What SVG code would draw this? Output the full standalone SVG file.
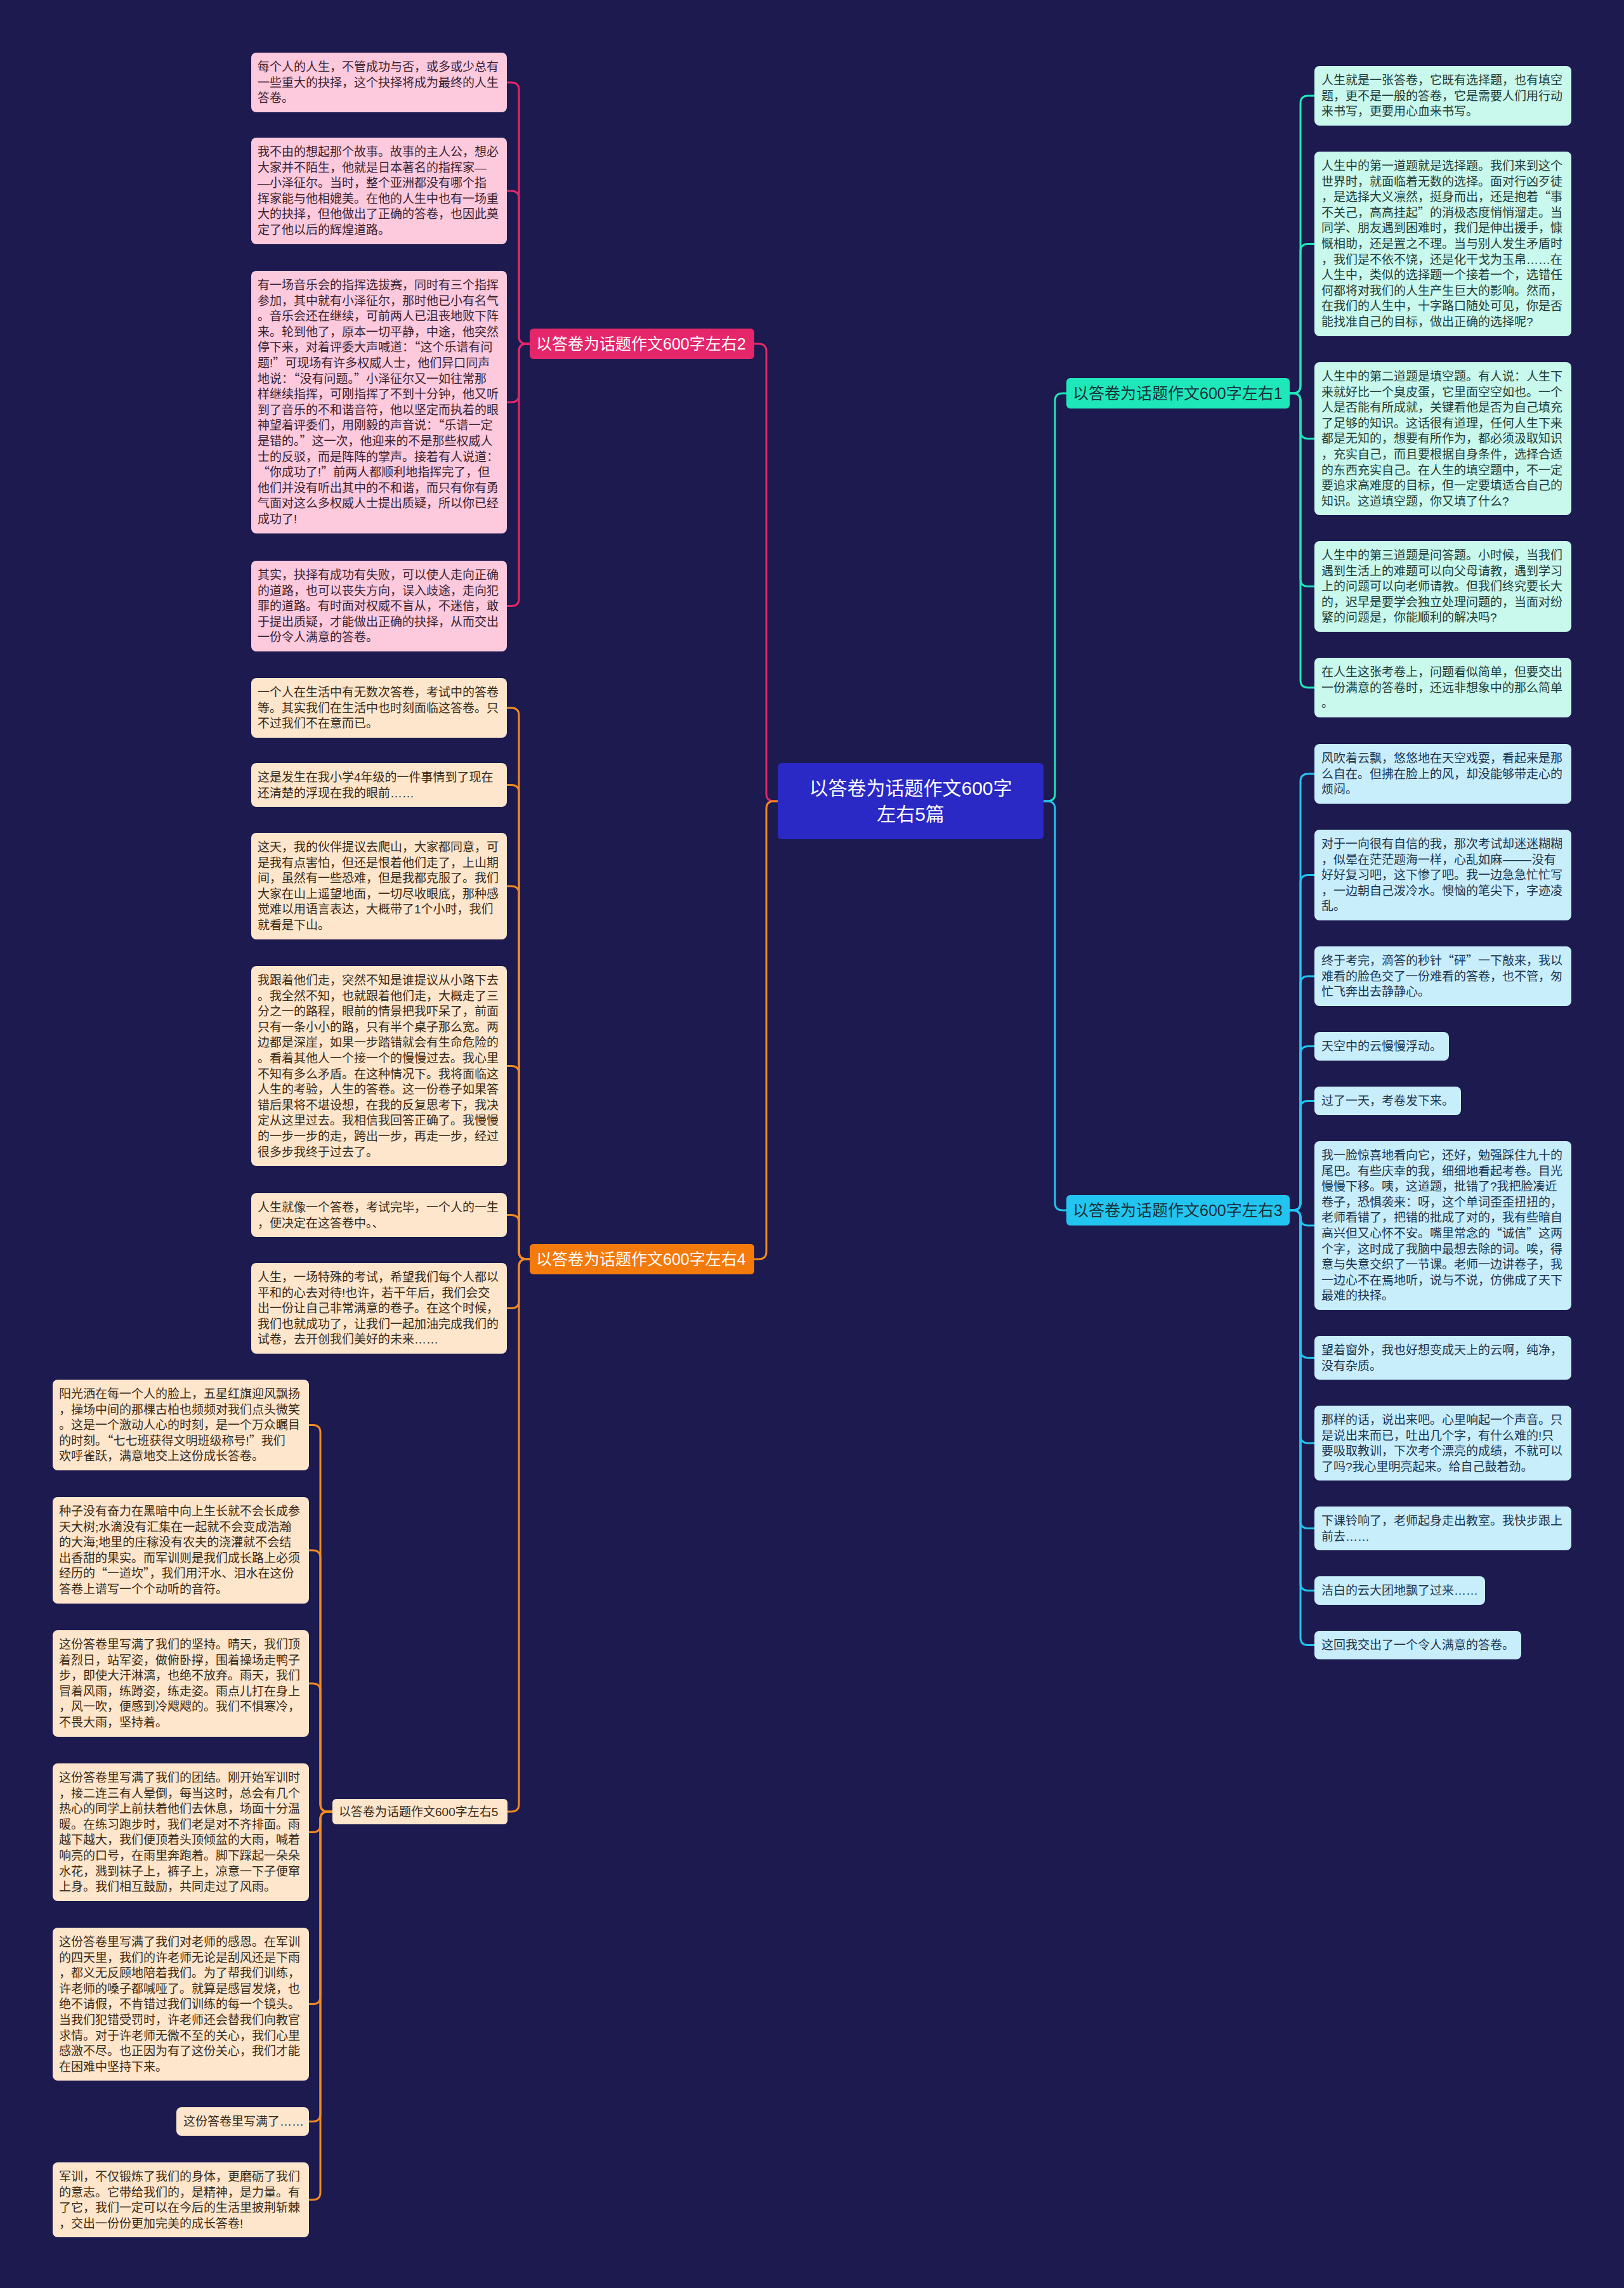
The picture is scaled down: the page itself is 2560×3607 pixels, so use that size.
<svg xmlns="http://www.w3.org/2000/svg" width="2560" height="3607" viewBox="0 0 2560 3607">
<style>
text{font-family:"Liberation Sans","Noto Sans CJK SC",sans-serif}
.q{font-family:"Noto Sans CJK SC",sans-serif}
.t{font-size:19px}
.pk rect{fill:#fcc9dd}
.pk text{fill:#3b2330}
.or rect{fill:#fde6cc}
.or text{fill:#3a2a18}
.tl rect{fill:#c9f8ec}
.tl text{fill:#1f3d3a}
.cy rect{fill:#c9eefb}
.cy text{fill:#1c3550}
.br text{font-size:25px}
.c path{fill:none;stroke-width:3;stroke-linecap:round}
.cp{stroke:#e5266b}
.co{stroke:#f28a21}
.ct{stroke:#1ee8b9}
.cc{stroke:#22c5ef}
</style>
<rect width="2560" height="3607" fill="#1c1a4f"/>
<g id="connectors" class="c">
<path class="ct" d="M1645 1263 H1651 Q1663 1263 1663 1251 V632 Q1663 620 1675 620 H1681"/>
<path class="cc" d="M1645 1263 H1651 Q1663 1263 1663 1275 V1896 Q1663 1908 1675 1908 H1681"/>
<path class="cp" d="M1226 1263 H1220 Q1208 1263 1208 1251 V554 Q1208 542 1196 542 H1189"/>
<path class="co" d="M1226 1263 H1220 Q1208 1263 1208 1275 V1973 Q1208 1985 1196 1985 H1189"/>
<path class="ct" d="M2033 620 H2038 Q2050 620 2050 608 V163 Q2050 151 2062 151 H2072"/>
<path class="ct" d="M2033 620 H2038 Q2050 620 2050 608 V396.5 Q2050 384.5 2062 384.5 H2072"/>
<path class="ct" d="M2033 620 H2038 Q2050 620 2050 632 V679.5 Q2050 691.5 2062 691.5 H2072"/>
<path class="ct" d="M2033 620 H2038 Q2050 620 2050 632 V912.5 Q2050 924.5 2062 924.5 H2072"/>
<path class="ct" d="M2033 620 H2038 Q2050 620 2050 632 V1072 Q2050 1084 2062 1084 H2072"/>
<path class="cc" d="M2033 1908 H2038 Q2050 1908 2050 1896 V1232 Q2050 1220 2062 1220 H2072"/>
<path class="cc" d="M2033 1908 H2038 Q2050 1908 2050 1896 V1391.5 Q2050 1379.5 2062 1379.5 H2072"/>
<path class="cc" d="M2033 1908 H2038 Q2050 1908 2050 1896 V1551 Q2050 1539 2062 1539 H2072"/>
<path class="cc" d="M2033 1908 H2038 Q2050 1908 2050 1896 V1661.5 Q2050 1649.5 2062 1649.5 H2072"/>
<path class="cc" d="M2033 1908 H2038 Q2050 1908 2050 1896 V1747.5 Q2050 1735.5 2062 1735.5 H2072"/>
<path class="cc" d="M2033 1908 H2038 Q2050 1908 2050 1920 V1920 Q2050 1932 2062 1932 H2072"/>
<path class="cc" d="M2033 1908 H2038 Q2050 1908 2050 1920 V2128.5 Q2050 2140.5 2062 2140.5 H2072"/>
<path class="cc" d="M2033 1908 H2038 Q2050 1908 2050 1920 V2263 Q2050 2275 2062 2275 H2072"/>
<path class="cc" d="M2033 1908 H2038 Q2050 1908 2050 1920 V2397.5 Q2050 2409.5 2062 2409.5 H2072"/>
<path class="cc" d="M2033 1908 H2038 Q2050 1908 2050 1920 V2495.5 Q2050 2507.5 2062 2507.5 H2072"/>
<path class="cc" d="M2033 1908 H2038 Q2050 1908 2050 1920 V2581.5 Q2050 2593.5 2062 2593.5 H2072"/>
<path class="cp" d="M835 542 H830 Q818 542 818 530 V142 Q818 130 806 130 H799"/>
<path class="cp" d="M835 542 H830 Q818 542 818 530 V313 Q818 301 806 301 H799"/>
<path class="cp" d="M835 542 H830 Q818 542 818 554 V622 Q818 634 806 634 H799"/>
<path class="cp" d="M835 542 H830 Q818 542 818 554 V943.5 Q818 955.5 806 955.5 H799"/>
<path class="co" d="M835 1985 H830 Q818 1985 818 1973 V1128 Q818 1116 806 1116 H799"/>
<path class="co" d="M835 1985 H830 Q818 1985 818 1973 V1249.5 Q818 1237.5 806 1237.5 H799"/>
<path class="co" d="M835 1985 H830 Q818 1985 818 1973 V1409 Q818 1397 806 1397 H799"/>
<path class="co" d="M835 1985 H830 Q818 1985 818 1973 V1692.5 Q818 1680.5 806 1680.5 H799"/>
<path class="co" d="M835 1985 H830 Q818 1985 818 1973 V1927.5 Q818 1915.5 806 1915.5 H799"/>
<path class="co" d="M835 1985 H830 Q818 1985 818 1997 V2050.5 Q818 2062.5 806 2062.5 H799"/>
<path class="co" d="M835 1985 H830 Q818 1985 818 1997 V2844 Q818 2856 806 2856 H800"/>
<path class="co" d="M524 2856 H517 Q505 2856 505 2844 V2258.5 Q505 2246.5 493 2246.5 H487"/>
<path class="co" d="M524 2856 H517 Q505 2856 505 2844 V2456 Q505 2444 493 2444 H487"/>
<path class="co" d="M524 2856 H517 Q505 2856 505 2844 V2666 Q505 2654 493 2654 H487"/>
<path class="co" d="M524 2856 H517 Q505 2856 505 2868 V2876.5 Q505 2888.5 493 2888.5 H487"/>
<path class="co" d="M524 2856 H517 Q505 2856 505 2868 V3147.5 Q505 3159.5 493 3159.5 H487"/>
<path class="co" d="M524 2856 H517 Q505 2856 505 2868 V3332.5 Q505 3344.5 493 3344.5 H487"/>
<path class="co" d="M524 2856 H517 Q505 2856 505 2868 V3456 Q505 3468 493 3468 H487"/>
</g>

<g id="center">
<rect x="1226" y="1203" width="419" height="120" rx="6" fill="#2a29c6"/>
<text x="1435.5" y="1253" font-size="30" fill="#ffffff" text-anchor="middle"><tspan x="1435.5">以答卷为话题作文600字</tspan><tspan x="1435.5" dy="41">左右5篇</tspan></text>
</g>

<g id="branch1" class="br">
<rect x="1681" y="596" width="352" height="48" rx="6" fill="#1ee8b9"/>
<text x="1691" y="629" fill="#1b2e3a">以答卷为话题作文600字左右1</text>
</g>
<g id="branch3" class="br">
<rect x="1681" y="1884" width="352" height="48" rx="6" fill="#22c5ef"/>
<text x="1691" y="1917" fill="#1b2e3a">以答卷为话题作文600字左右3</text>
</g>
<g id="branch2" class="br">
<rect x="835" y="518" width="354" height="48" rx="6" fill="#e5266b"/>
<text x="845" y="551" fill="#ffffff">以答卷为话题作文600字左右2</text>
</g>
<g id="branch4" class="br">
<rect x="835" y="1961" width="354" height="48" rx="6" fill="#f47a0c"/>
<text x="845" y="1994" fill="#ffffff">以答卷为话题作文600字左右4</text>
</g>
<g id="branch5" class="or">
<rect x="524" y="2836" width="276" height="40" rx="6"/>
<text class="t" x="534" y="2863">以答卷为话题作文600字左右5</text>
</g>

<g id="p1" class="pk"><rect x="396" y="83" width="403" height="94" rx="8"/><text class="t" y="112"><tspan x="406">每个人的人生，不管成功与否，或多或少总有</tspan><tspan x="406" dy="24.6">一些重大的抉择，这个抉择将成为最终的人生</tspan><tspan x="406" dy="24.6">答卷。</tspan></text></g>
<g id="p2" class="pk"><rect x="396" y="217" width="403" height="168" rx="8"/><text class="t" y="246"><tspan x="406">我不由的想起那个故事。故事的主人公，想必</tspan><tspan x="406" dy="24.6">大家并不陌生，他就是日本著名的指挥家—</tspan><tspan x="406" dy="24.6">—小泽征尔。当时，整个亚洲都没有哪个指</tspan><tspan x="406" dy="24.6">挥家能与他相媲美。在他的人生中也有一场重</tspan><tspan x="406" dy="24.6">大的抉择，但他做出了正确的答卷，也因此奠</tspan><tspan x="406" dy="24.6">定了他以后的辉煌道路。</tspan></text></g>
<g id="p3" class="pk"><rect x="396" y="427" width="403" height="414" rx="8"/><text class="t" y="456"><tspan x="406">有一场音乐会的指挥选拔赛，同时有三个指挥</tspan><tspan x="406" dy="24.6">参加，其中就有小泽征尔，那时他已小有名气</tspan><tspan x="406" dy="24.6">。音乐会还在继续，可前两人已沮丧地败下阵</tspan><tspan x="406" dy="24.6">来。轮到他了，原本一切平静，中途，他突然</tspan><tspan x="406" dy="24.6">停下来，对着评委大声喊道：<tspan class="q">“</tspan>这个乐谱有问</tspan><tspan x="406" dy="24.6">题!<tspan class="q">”</tspan>可现场有许多权威人士，他们异口同声</tspan><tspan x="406" dy="24.6">地说：<tspan class="q">“</tspan>没有问题。<tspan class="q">”</tspan>小泽征尔又一如往常那</tspan><tspan x="406" dy="24.6">样继续指挥，可刚指挥了不到十分钟，他又听</tspan><tspan x="406" dy="24.6">到了音乐的不和谐音符，他以坚定而执着的眼</tspan><tspan x="406" dy="24.6">神望着评委们，用刚毅的声音说：<tspan class="q">“</tspan>乐谱一定</tspan><tspan x="406" dy="24.6">是错的。<tspan class="q">”</tspan>这一次，他迎来的不是那些权威人</tspan><tspan x="406" dy="24.6">士的反驳，而是阵阵的掌声。接着有人说道：</tspan><tspan x="406" dy="24.6"><tspan class="q">“</tspan>你成功了!<tspan class="q">”</tspan>前两人都顺利地指挥完了，但</tspan><tspan x="406" dy="24.6">他们并没有听出其中的不和谐，而只有你有勇</tspan><tspan x="406" dy="24.6">气面对这么多权威人士提出质疑，所以你已经</tspan><tspan x="406" dy="24.6">成功了!</tspan></text></g>
<g id="p4" class="pk"><rect x="396" y="884" width="403" height="143" rx="8"/><text class="t" y="913"><tspan x="406">其实，抉择有成功有失败，可以使人走向正确</tspan><tspan x="406" dy="24.6">的道路，也可以丧失方向，误入歧途，走向犯</tspan><tspan x="406" dy="24.6">罪的道路。有时面对权威不盲从，不迷信，敢</tspan><tspan x="406" dy="24.6">于提出质疑，才能做出正确的抉择，从而交出</tspan><tspan x="406" dy="24.6">一份令人满意的答卷。</tspan></text></g>

<g id="o1" class="or"><rect x="396" y="1069" width="403" height="94" rx="8"/><text class="t" y="1098"><tspan x="406">一个人在生活中有无数次答卷，考试中的答卷</tspan><tspan x="406" dy="24.6">等。其实我们在生活中也时刻面临这答卷。只</tspan><tspan x="406" dy="24.6">不过我们不在意而已。</tspan></text></g>
<g id="o2" class="or"><rect x="396" y="1203" width="403" height="69" rx="8"/><text class="t" y="1232"><tspan x="406">这是发生在我小学4年级的一件事情到了现在</tspan><tspan x="406" dy="24.6">还清楚的浮现在我的眼前……</tspan></text></g>
<g id="o3" class="or"><rect x="396" y="1313" width="403" height="168" rx="8"/><text class="t" y="1342"><tspan x="406">这天，我的伙伴提议去爬山，大家都同意，可</tspan><tspan x="406" dy="24.6">是我有点害怕，但还是恨着他们走了，上山期</tspan><tspan x="406" dy="24.6">间，虽然有一些恐难，但是我都克服了。我们</tspan><tspan x="406" dy="24.6">大家在山上遥望地面，一切尽收眼底，那种感</tspan><tspan x="406" dy="24.6">觉难以用语言表达，大概带了1个小时，我们</tspan><tspan x="406" dy="24.6">就看是下山。</tspan></text></g>
<g id="o4" class="or"><rect x="396" y="1523" width="403" height="315" rx="8"/><text class="t" y="1552"><tspan x="406">我跟着他们走，突然不知是谁提议从小路下去</tspan><tspan x="406" dy="24.6">。我全然不知，也就跟着他们走，大概走了三</tspan><tspan x="406" dy="24.6">分之一的路程，眼前的情景把我吓呆了，前面</tspan><tspan x="406" dy="24.6">只有一条小小的路，只有半个桌子那么宽。两</tspan><tspan x="406" dy="24.6">边都是深崖，如果一步踏错就会有生命危险的</tspan><tspan x="406" dy="24.6">。看着其他人一个接一个的慢慢过去。我心里</tspan><tspan x="406" dy="24.6">不知有多么矛盾。在这种情况下。我将面临这</tspan><tspan x="406" dy="24.6">人生的考验，人生的答卷。这一份卷子如果答</tspan><tspan x="406" dy="24.6">错后果将不堪设想，在我的反复思考下，我决</tspan><tspan x="406" dy="24.6">定从这里过去。我相信我回答正确了。我慢慢</tspan><tspan x="406" dy="24.6">的一步一步的走，跨出一步，再走一步，经过</tspan><tspan x="406" dy="24.6">很多步我终于过去了。</tspan></text></g>
<g id="o5" class="or"><rect x="396" y="1881" width="403" height="69" rx="8"/><text class="t" y="1910"><tspan x="406">人生就像一个答卷，考试完毕，一个人的一生</tspan><tspan x="406" dy="24.6">，便决定在这答卷中。、</tspan></text></g>
<g id="o6" class="or"><rect x="396" y="1991" width="403" height="143" rx="8"/><text class="t" y="2020"><tspan x="406">人生，一场特殊的考试，希望我们每个人都以</tspan><tspan x="406" dy="24.6">平和的心去对待!也许，若干年后，我们会交</tspan><tspan x="406" dy="24.6">出一份让自己非常满意的卷子。在这个时候，</tspan><tspan x="406" dy="24.6">我们也就成功了，让我们一起加油完成我们的</tspan><tspan x="406" dy="24.6">试卷，去开创我们美好的未来……</tspan></text></g>

<g id="bl1" class="or"><rect x="83" y="2175" width="404" height="143" rx="8"/><text class="t" y="2204"><tspan x="93">阳光洒在每一个人的脸上，五星红旗迎风飘扬</tspan><tspan x="93" dy="24.6">，操场中间的那棵古柏也频频对我们点头微笑</tspan><tspan x="93" dy="24.6">。这是一个激动人心的时刻，是一个万众瞩目</tspan><tspan x="93" dy="24.6">的时刻。<tspan class="q">“</tspan>七七班获得文明班级称号!<tspan class="q">”</tspan>我们</tspan><tspan x="93" dy="24.6">欢呼雀跃，满意地交上这份成长答卷。</tspan></text></g>
<g id="bl2" class="or"><rect x="83" y="2360" width="404" height="168" rx="8"/><text class="t" y="2389"><tspan x="93">种子没有奋力在黑暗中向上生长就不会长成参</tspan><tspan x="93" dy="24.6">天大树;水滴没有汇集在一起就不会变成浩瀚</tspan><tspan x="93" dy="24.6">的大海;地里的庄稼没有农夫的浇灌就不会结</tspan><tspan x="93" dy="24.6">出香甜的果实。而军训则是我们成长路上必须</tspan><tspan x="93" dy="24.6">经历的<tspan class="q">“</tspan>一道坎<tspan class="q">”</tspan>，我们用汗水、泪水在这份</tspan><tspan x="93" dy="24.6">答卷上谱写一个个动听的音符。</tspan></text></g>
<g id="bl3" class="or"><rect x="83" y="2570" width="404" height="168" rx="8"/><text class="t" y="2599"><tspan x="93">这份答卷里写满了我们的坚持。晴天，我们顶</tspan><tspan x="93" dy="24.6">着烈日，站军姿，做俯卧撑，围着操场走鸭子</tspan><tspan x="93" dy="24.6">步，即使大汗淋漓，也绝不放弃。雨天，我们</tspan><tspan x="93" dy="24.6">冒着风雨，练蹲姿，练走姿。雨点儿打在身上</tspan><tspan x="93" dy="24.6">，风一吹，便感到冷飕飕的。我们不惧寒冷，</tspan><tspan x="93" dy="24.6">不畏大雨，坚持着。</tspan></text></g>
<g id="bl4" class="or"><rect x="83" y="2780" width="404" height="217" rx="8"/><text class="t" y="2809"><tspan x="93">这份答卷里写满了我们的团结。刚开始军训时</tspan><tspan x="93" dy="24.6">，接二连三有人晕倒，每当这时，总会有几个</tspan><tspan x="93" dy="24.6">热心的同学上前扶着他们去休息，场面十分温</tspan><tspan x="93" dy="24.6">暖。在练习跑步时，我们老是对不齐排面。雨</tspan><tspan x="93" dy="24.6">越下越大，我们便顶着头顶倾盆的大雨，喊着</tspan><tspan x="93" dy="24.6">响亮的口号，在雨里奔跑着。脚下踩起一朵朵</tspan><tspan x="93" dy="24.6">水花，溅到袜子上，裤子上，凉意一下子便窜</tspan><tspan x="93" dy="24.6">上身。我们相互鼓励，共同走过了风雨。</tspan></text></g>
<g id="bl5" class="or"><rect x="83" y="3039" width="404" height="241" rx="8"/><text class="t" y="3068"><tspan x="93">这份答卷里写满了我们对老师的感恩。在军训</tspan><tspan x="93" dy="24.6">的四天里，我们的许老师无论是刮风还是下雨</tspan><tspan x="93" dy="24.6">，都义无反顾地陪着我们。为了帮我们训练，</tspan><tspan x="93" dy="24.6">许老师的嗓子都喊哑了。就算是感冒发烧，也</tspan><tspan x="93" dy="24.6">绝不请假，不肯错过我们训练的每一个镜头。</tspan><tspan x="93" dy="24.6">当我们犯错受罚时，许老师还会替我们向教官</tspan><tspan x="93" dy="24.6">求情。对于许老师无微不至的关心，我们心里</tspan><tspan x="93" dy="24.6">感激不尽。也正因为有了这份关心，我们才能</tspan><tspan x="93" dy="24.6">在困难中坚持下来。</tspan></text></g>
<g id="bl6" class="or"><rect x="278" y="3322" width="209" height="45" rx="8"/><text class="t" x="289" y="3351">这份答卷里写满了……</text></g>
<g id="bl7" class="or"><rect x="83" y="3409" width="404" height="118" rx="8"/><text class="t" y="3438"><tspan x="93">军训，不仅锻炼了我们的身体，更磨砺了我们</tspan><tspan x="93" dy="24.6">的意志。它带给我们的，是精神，是力量。有</tspan><tspan x="93" dy="24.6">了它，我们一定可以在今后的生活里披荆斩棘</tspan><tspan x="93" dy="24.6">，交出一份份更加完美的成长答卷!</tspan></text></g>

<g id="r1" class="tl"><rect x="2072" y="104" width="405" height="94" rx="8"/><text class="t" y="133"><tspan x="2083">人生就是一张答卷，它既有选择题，也有填空</tspan><tspan x="2083" dy="24.6">题，更不是一般的答卷，它是需要人们用行动</tspan><tspan x="2083" dy="24.6">来书写，更要用心血来书写。</tspan></text></g>
<g id="r2" class="tl"><rect x="2072" y="239" width="405" height="291" rx="8"/><text class="t" y="268"><tspan x="2083">人生中的第一道题就是选择题。我们来到这个</tspan><tspan x="2083" dy="24.6">世界时，就面临着无数的选择。面对行凶歹徒</tspan><tspan x="2083" dy="24.6">，是选择大义凛然，挺身而出，还是抱着<tspan class="q">“</tspan>事</tspan><tspan x="2083" dy="24.6">不关己，高高挂起<tspan class="q">”</tspan>的消极态度悄悄溜走。当</tspan><tspan x="2083" dy="24.6">同学、朋友遇到困难时，我们是伸出援手，慷</tspan><tspan x="2083" dy="24.6">慨相助，还是置之不理。当与别人发生矛盾时</tspan><tspan x="2083" dy="24.6">，我们是不依不饶，还是化干戈为玉帛……在</tspan><tspan x="2083" dy="24.6">人生中，类似的选择题一个接着一个，选错任</tspan><tspan x="2083" dy="24.6">何都将对我们的人生产生巨大的影响。然而，</tspan><tspan x="2083" dy="24.6">在我们的人生中，十字路口随处可见，你是否</tspan><tspan x="2083" dy="24.6">能找准自己的目标，做出正确的选择呢?</tspan></text></g>
<g id="r3" class="tl"><rect x="2072" y="571" width="405" height="241" rx="8"/><text class="t" y="600"><tspan x="2083">人生中的第二道题是填空题。有人说：人生下</tspan><tspan x="2083" dy="24.6">来就好比一个臭皮蛋，它里面空空如也。一个</tspan><tspan x="2083" dy="24.6">人是否能有所成就，关键看他是否为自己填充</tspan><tspan x="2083" dy="24.6">了足够的知识。这话很有道理，任何人生下来</tspan><tspan x="2083" dy="24.6">都是无知的，想要有所作为，都必须汲取知识</tspan><tspan x="2083" dy="24.6">，充实自己，而且要根据自身条件，选择合适</tspan><tspan x="2083" dy="24.6">的东西充实自己。在人生的填空题中，不一定</tspan><tspan x="2083" dy="24.6">要追求高难度的目标，但一定要填适合自己的</tspan><tspan x="2083" dy="24.6">知识。这道填空题，你又填了什么?</tspan></text></g>
<g id="r4" class="tl"><rect x="2072" y="853" width="405" height="143" rx="8"/><text class="t" y="882"><tspan x="2083">人生中的第三道题是问答题。小时候，当我们</tspan><tspan x="2083" dy="24.6">遇到生活上的难题可以向父母请教，遇到学习</tspan><tspan x="2083" dy="24.6">上的问题可以向老师请教。但我们终究要长大</tspan><tspan x="2083" dy="24.6">的，迟早是要学会独立处理问题的，当面对纷</tspan><tspan x="2083" dy="24.6">繁的问题是，你能顺利的解决吗?</tspan></text></g>
<g id="r5" class="tl"><rect x="2072" y="1037" width="405" height="94" rx="8"/><text class="t" y="1066"><tspan x="2083">在人生这张考卷上，问题看似简单，但要交出</tspan><tspan x="2083" dy="24.6">一份满意的答卷时，还远非想象中的那么简单</tspan><tspan x="2083" dy="24.6">。</tspan></text></g>

<g id="r6" class="cy"><rect x="2072" y="1173" width="405" height="94" rx="8"/><text class="t" y="1202"><tspan x="2083">风吹着云飘，悠悠地在天空戏耍，看起来是那</tspan><tspan x="2083" dy="24.6">么自在。但拂在脸上的风，却没能够带走心的</tspan><tspan x="2083" dy="24.6">烦闷。</tspan></text></g>
<g id="r7" class="cy"><rect x="2072" y="1308" width="405" height="143" rx="8"/><text class="t" y="1337"><tspan x="2083">对于一向很有自信的我，那次考试却迷迷糊糊</tspan><tspan x="2083" dy="24.6">，似晕在茫茫题海一样，心乱如麻<tspan class="q">———</tspan>没有</tspan><tspan x="2083" dy="24.6">好好复习吧，这下惨了吧。我一边急急忙忙写</tspan><tspan x="2083" dy="24.6">，一边朝自己泼冷水。懊恼的笔尖下，字迹凌</tspan><tspan x="2083" dy="24.6">乱。</tspan></text></g>
<g id="r8" class="cy"><rect x="2072" y="1492" width="405" height="94" rx="8"/><text class="t" y="1521"><tspan x="2083">终于考完，滴答的秒针<tspan class="q">“</tspan>砰<tspan class="q">”</tspan>一下敲来，我以</tspan><tspan x="2083" dy="24.6">难看的脸色交了一份难看的答卷，也不管，匆</tspan><tspan x="2083" dy="24.6">忙飞奔出去静静心。</tspan></text></g>
<g id="r9" class="cy"><rect x="2072" y="1627" width="212" height="45" rx="8"/><text class="t" x="2083" y="1656">天空中的云慢慢浮动。</text></g>
<g id="r10" class="cy"><rect x="2072" y="1713" width="231" height="45" rx="8"/><text class="t" x="2083" y="1742">过了一天，考卷发下来。</text></g>
<g id="r11" class="cy"><rect x="2072" y="1799" width="405" height="266" rx="8"/><text class="t" y="1828"><tspan x="2083">我一脸惊喜地看向它，还好，勉强踩住九十的</tspan><tspan x="2083" dy="24.6">尾巴。有些庆幸的我，细细地看起考卷。目光</tspan><tspan x="2083" dy="24.6">慢慢下移。咦，这道题，批错了?我把脸凑近</tspan><tspan x="2083" dy="24.6">卷子，恐惧袭来：呀，这个单词歪歪扭扭的，</tspan><tspan x="2083" dy="24.6">老师看错了，把错的批成了对的，我有些暗自</tspan><tspan x="2083" dy="24.6">高兴但又心怀不安。嘴里常念的<tspan class="q">“</tspan>诚信<tspan class="q">”</tspan>这两</tspan><tspan x="2083" dy="24.6">个字，这时成了我脑中最想去除的词。唉，得</tspan><tspan x="2083" dy="24.6">意与失意交织了一节课。老师一边讲卷子，我</tspan><tspan x="2083" dy="24.6">一边心不在焉地听，说与不说，仿佛成了天下</tspan><tspan x="2083" dy="24.6">最难的抉择。</tspan></text></g>
<g id="r12" class="cy"><rect x="2072" y="2106" width="405" height="69" rx="8"/><text class="t" y="2135"><tspan x="2083">望着窗外，我也好想变成天上的云啊，纯净，</tspan><tspan x="2083" dy="24.6">没有杂质。</tspan></text></g>
<g id="r13" class="cy"><rect x="2072" y="2216" width="405" height="118" rx="8"/><text class="t" y="2245"><tspan x="2083">那样的话，说出来吧。心里响起一个声音。只</tspan><tspan x="2083" dy="24.6">是说出来而已，吐出几个字，有什么难的!只</tspan><tspan x="2083" dy="24.6">要吸取教训，下次考个漂亮的成绩，不就可以</tspan><tspan x="2083" dy="24.6">了吗?我心里明亮起来。给自己鼓着劲。</tspan></text></g>
<g id="r14" class="cy"><rect x="2072" y="2375" width="405" height="69" rx="8"/><text class="t" y="2404"><tspan x="2083">下课铃响了，老师起身走出教室。我快步跟上</tspan><tspan x="2083" dy="24.6">前去……</tspan></text></g>
<g id="r15" class="cy"><rect x="2072" y="2485" width="269" height="45" rx="8"/><text class="t" x="2083" y="2514">洁白的云大团地飘了过来……</text></g>
<g id="r16" class="cy"><rect x="2072" y="2571" width="326" height="45" rx="8"/><text class="t" x="2083" y="2600">这回我交出了一个令人满意的答卷。</text></g>
</svg>
